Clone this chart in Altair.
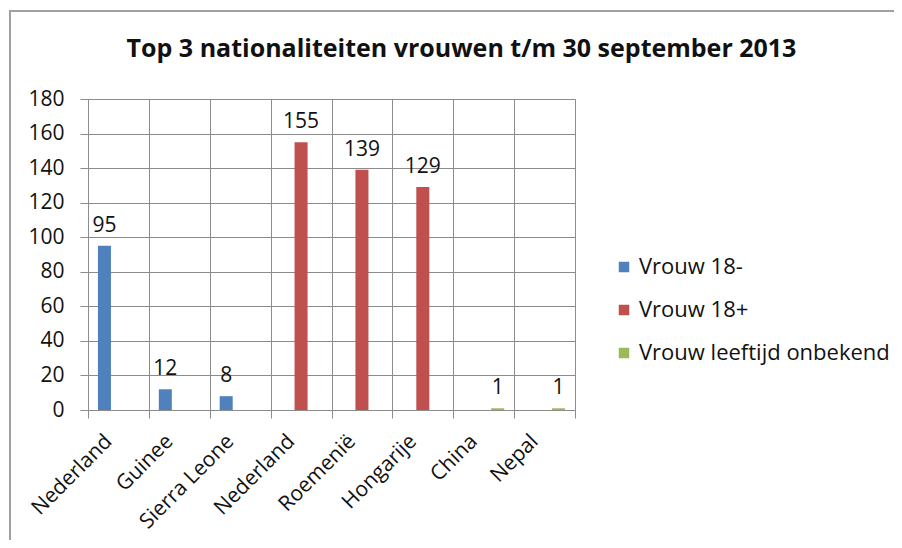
import altair as alt
import pandas as pd

# ---- data ----
categories = ["Nederland", "Guinee", "Sierra Leone", "Nederland", "Roemenië", "Hongarije", "China", "Nepal"]
series_of_cat = ["Vrouw 18-", "Vrouw 18-", "Vrouw 18-", "Vrouw 18+", "Vrouw 18+", "Vrouw 18+",
                 "Vrouw leeftijd onbekend", "Vrouw leeftijd onbekend"]
values = [95, 12, 8, 155, 139, 129, 1, 1]
series_names = ["Vrouw 18-", "Vrouw 18+", "Vrouw leeftijd onbekend"]
series_colors = ["#4F81BD", "#C0504D", "#9BBB59"]
y_ticks = [0, 20, 40, 60, 80, 100, 120, 140, 160, 180]

keys = [f"{i}|{c}" for i, c in enumerate(categories)]
df = pd.DataFrame({"key": keys, "series": series_of_cat, "value": values})

FONT = "Open Sans"
GRID = "#8c8c8c"
TXT = "#111111"

x_enc = alt.X(
    "key:N", sort=keys, title=None,
    scale=alt.Scale(paddingInner=0, paddingOuter=0),
    axis=alt.Axis(
        labelExpr="split(datum.value, '|')[1]",
        labelAngle=-45, labelAlign="right", labelBaseline="middle",
        labelFont=FONT, labelFontSize=21, labelColor=TXT, labelPadding=20, labelOffset=-10,
        tickBand="extent", grid=True, gridColor=GRID, gridWidth=1,
        ticks=True, tickSize=8, tickColor=GRID, domainColor=GRID, labelOverlap=False,
        labelLimit=0,
    ),
)
xoff = alt.XOffset(
    "series:N",
    scale=alt.Scale(domain=series_names, paddingInner=0.07, paddingOuter=0.71),
)
y_enc = alt.Y(
    "value:Q", title=None,
    scale=alt.Scale(domain=[0, 180], nice=False),
    axis=alt.Axis(
        values=y_ticks, grid=True, gridColor=GRID, gridWidth=1, labelOverlap=False,
        tickSize=8, tickColor=GRID, domainColor=GRID,
        labelFont=FONT, labelFontSize=21, labelColor=TXT, labelPadding=16,
    ),
)
color_enc = alt.Color(
    "series:N",
    scale=alt.Scale(domain=series_names, range=series_colors),
    legend=alt.Legend(
        title=None, orient="none", legendX=525, legendY=157,
        symbolType="square", symbolSize=110, symbolStrokeWidth=0,
        labelFont=FONT, labelFontSize=22, labelColor=TXT, labelLimit=0,
        rowPadding=21, labelOffset=4, padding=0,
    ),
)

bars = alt.Chart(df).mark_bar().encode(x=x_enc, xOffset=xoff, y=y_enc, color=color_enc)
labels = alt.Chart(df).mark_text(
    font=FONT, fontSize=21, color=TXT, baseline="alphabetic", dy=-14
).encode(x=x_enc, xOffset=xoff, y=y_enc, text="value:Q")

frame = alt.Chart(alt.Data(values=[{"f": 1}])).mark_rect(
    filled=False, stroke="#a0a0a0", strokeWidth=2
).encode(x=alt.value(-78), x2=alt.value(840), y=alt.value(-88), y2=alt.value(470))

chart = alt.layer(frame, bars, labels).properties(
    width=487, height=311,
    autosize=alt.AutoSizeParams(type="none"),
    padding={"left": 80, "top": 91, "right": 319, "bottom": 130},
    title=alt.TitleParams(
        "Top 3 nationaliteiten vrouwen t/m 30 september 2013",
        font=FONT, fontSize=25, fontWeight="bold", color=TXT,
        anchor="middle", dx=130, offset=0, dy=72, baseline="alphabetic",
    ),
).configure_view(stroke=GRID, strokeWidth=1).configure(background="white")

chart.save("out.html", embed_options={"renderer": "svg", "actions": False})
